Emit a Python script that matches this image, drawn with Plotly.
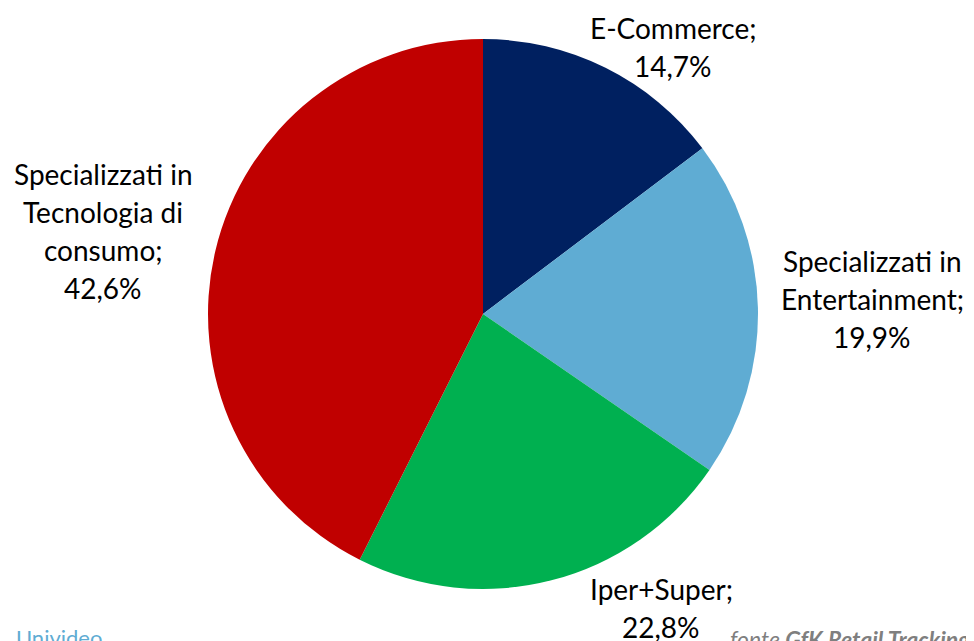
import plotly.graph_objects as go

categories = ["E-Commerce", "Specializzati in Entertainment", "Iper+Super", "Specializzati in Tecnologia di consumo"]
label_lines = [["E-Commerce;"], ["Specializzati in", "Entertainment;"], ["Iper+Super;"], ["Specializzati in", "Tecnologia di", "consumo;"]]
values = [14.7, 19.9, 22.8, 42.6]
colors = ["#002060", "#5FACD3", "#00B050", "#C00000"]

W, H = 974, 641
OFF = 8  # page body margin offset
LINE = 38
# label centre positions in page pixels (layout only)
label_pos = [(673, 47), (872, 299), (661, 608), (103, 231)]

fig = go.Figure(go.Pie(
    labels=categories,
    values=values,
    sort=False,
    direction="clockwise",
    rotation=0,
    marker=dict(colors=colors, line=dict(color="white", width=0)),
    textinfo="none",
    hoverinfo="label+percent",
    showlegend=False,
    domain=dict(x=[200 / W, 750 / W], y=[(335 - 275) / H, (335 + 275) / H]),
))

annotations = []
for lines, v, (px, py) in zip(label_lines, values, label_pos):
    all_lines = lines + [f"{v:.1f}%".replace(".", ",")]
    n = len(all_lines)
    for i, line in enumerate(all_lines):
        ly = py + (i - (n - 1) / 2) * LINE
        annotations.append(dict(
            text=line,
            x=(px - OFF) / W, y=(H - (ly - OFF)) / H, xref="paper", yref="paper",
            xanchor="center", yanchor="middle", showarrow=False, align="center",
            font=dict(family="Lato, Carlito, sans-serif", size=28, color="#000000"),
        ))

annotations.append(dict(
    text="Univideo", x=(14 - OFF) / W, y=(H - (622 - OFF)) / H, xref="paper", yref="paper",
    xanchor="left", yanchor="top", showarrow=False,
    font=dict(family="Lato, sans-serif", size=22, color="#5FACD3"),
))
annotations.append(dict(
    text="<i>fonte <b>GfK Retail Tracking</b></i>", x=(728 - OFF) / W, y=(H - (623 - OFF)) / H,
    xref="paper", yref="paper", xanchor="left", yanchor="top", showarrow=False,
    font=dict(family="Lato, sans-serif", size=23, color="#7F7F7F"),
))

fig.update_layout(
    width=W, height=H,
    margin=dict(l=0, r=0, t=0, b=0),
    paper_bgcolor="white", plot_bgcolor="white",
    annotations=annotations,
)

fig.write_html("out.html")
